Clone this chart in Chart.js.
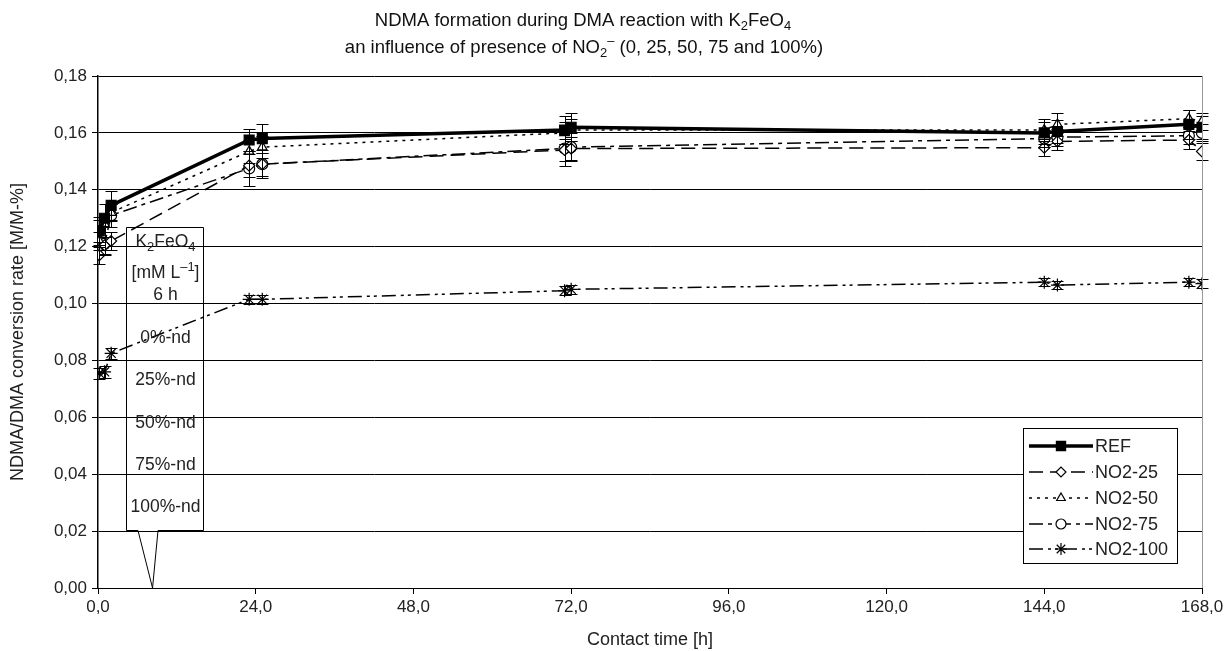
<!DOCTYPE html>
<html><head><meta charset="utf-8">
<script src="https://cdn.jsdelivr.net/npm/chart.js@4.4.1/dist/chart.umd.min.js"></script>
<style>html,body{margin:0;padding:0;background:#fff}#wrap{width:1229px;height:651px;position:relative}</style>
</head><body><div id="wrap"><canvas id="c" width="1229" height="651"></canvas></div>
<script>
// ---- data ----
const hours   = [0.2, 1, 2, 23, 25, 71, 72, 144, 146, 166, 168];
const seriesNames = ['REF', 'NO2-25', 'NO2-50', 'NO2-75', 'NO2-100'];
const ref     = [0.1255, 0.130, 0.1345, 0.1575, 0.158, 0.161, 0.162, 0.1600, 0.1605, 0.1630, 0.1620];
const no2_25  = [0.1170, 0.1205, 0.1220, 0.1485, 0.1490, 0.1540, 0.1545, 0.1548, 0.1570, 0.1575, 0.1535];
const no2_50  = [0.1220, 0.1280, 0.1320, 0.1535, 0.1550, 0.1600, 0.1610, 0.1610, 0.1630, 0.1650, 0.1640];
const no2_75  = [0.1255, 0.1210, 0.1310, 0.1475, 0.1490, 0.1545, 0.1550, 0.1580, 0.1585, 0.1590, 0.1600];
const no2_100 = [0.0755, 0.0760, 0.0825, 0.1015, 0.1015, 0.1045, 0.1050, 0.1075, 0.1065, 0.1075, 0.1070];
const ref_err     = [0.005, 0.005, 0.005, 0.004, 0.005, 0.005, 0.005, 0.004, 0.004, 0.005, 0.004];
const no2_25_err  = [0.003, 0.003, 0.003, 0.004, 0.004, 0.004, 0.004, 0.003, 0.003, 0.003, 0.003];
const no2_50_err  = [0.003, 0.003, 0.003, 0.004, 0.004, 0.004, 0.004, 0.004, 0.004, 0.003, 0.003];
const no2_75_err  = [0.004, 0.004, 0.004, 0.006, 0.005, 0.006, 0.005, 0.003, 0.003, 0.003, 0.003];
const no2_100_err = [0.002, 0.002, 0.002, 0.0015, 0.0015, 0.0015, 0.0015, 0.0015, 0.0015, 0.0015, 0.0015];
const xTickValues = [0, 24, 48, 72, 96, 120, 144, 168];
const yTickValues = [0, 0.02, 0.04, 0.06, 0.08, 0.10, 0.12, 0.14, 0.16, 0.18];
const calloutLines = ['0%-nd', '25%-nd', '50%-nd', '75%-nd', '100%-nd'];
const calloutTip = {x: 8.3, y: 0};

const FONT = '"Liberation Sans", Arial, sans-serif';
const toPts = (vals) => vals.map((v, i) => ({x: hours[i], y: v}));
const errs = [ref_err, no2_25_err, no2_50_err, no2_75_err, no2_100_err];

const styles = [
  {dash: [], width: 3.5, pointStyle: 'rect', radius: 7, fill: '#000'},
  {dash: [14, 7], width: 1.5, pointStyle: 'rectRot', radius: 5.5, fill: '#fff'},
  {dash: [3, 5], width: 1.5, pointStyle: 'triangle', radius: 5.5, fill: '#fff'},
  {dash: [14, 5, 4, 5], width: 1.5, pointStyle: 'circle', radius: 5.5, fill: '#fff'},
  {dash: [14, 5, 3, 4, 3, 5], width: 1.5, pointStyle: 'star', radius: 6.5, fill: '#fff'}
];
const allVals = [ref, no2_25, no2_50, no2_75, no2_100];

const datasets = allVals.map((vals, i) => ({
  label: seriesNames[i],
  data: toPts(vals),
  borderColor: '#000',
  backgroundColor: styles[i].fill,
  borderWidth: styles[i].width,
  borderDash: styles[i].dash,
  pointStyle: styles[i].pointStyle,
  pointRadius: styles[i].radius,
  pointBorderWidth: 1.2,
  pointBorderColor: '#000',
  pointBackgroundColor: styles[i].fill,
  tension: 0,
  fill: false
}));

function drawRich(ctx, parts, x, y, size, align) {
  const widths = parts.map(p => {
    ctx.font = (p[1] ? Math.round(size * 0.72) : size) + 'px ' + FONT;
    return ctx.measureText(p[0]).width;
  });
  const total = widths.reduce((a, b) => a + b, 0);
  let cx = align === 'center' ? x - total / 2 : x;
  ctx.textBaseline = 'middle';
  ctx.textAlign = 'left';
  parts.forEach((p, i) => {
    ctx.font = (p[1] ? Math.round(size * 0.72) : size) + 'px ' + FONT;
    const dy = p[1] === 1 ? size * 0.32 : (p[1] === 2 ? -size * 0.33 : 0);
    ctx.fillText(p[0], cx, y + dy);
    cx += widths[i];
  });
}

const decorPlugin = {
  id: 'decor',
  afterDraw(chart) {
    const ctx = chart.ctx;
    const a = chart.chartArea;
    const xs = chart.scales.x, ys = chart.scales.y;
    ctx.save();
    ctx.strokeStyle = '#999';
    ctx.lineWidth = 1;
    ctx.beginPath();
    ctx.moveTo(Math.round(a.right) + 0.5, a.top);
    ctx.lineTo(Math.round(a.right) + 0.5, a.bottom);
    ctx.stroke();

    // title
    ctx.fillStyle = '#111';
    drawRich(ctx, [['NDMA formation during DMA reaction with K', 0], ['2', 1], ['FeO', 0], ['4', 1]], 583, 21, 18.5, 'center');
    drawRich(ctx, [['an influence of presence of NO', 0], ['2', 1], ['\u2013', 2], [' (0, 25, 50, 75 and 100%)', 0]], 584, 48, 18.5, 'center');

    // callout box
    const bx0 = 126, bx1 = 203, by0 = 227, by1 = 530;
    const tipX = xs.getPixelForValue(calloutTip.x), tipY = ys.getPixelForValue(calloutTip.y);
    ctx.strokeStyle = '#000';
    ctx.lineWidth = 1;
    ctx.beginPath();
    ctx.moveTo(bx0 + 0.5, by0 + 0.5);
    ctx.lineTo(bx1 + 0.5, by0 + 0.5);
    ctx.lineTo(bx1 + 0.5, by1 + 0.5);
    ctx.lineTo(158, by1 + 0.5);
    ctx.lineTo(tipX, tipY);
    ctx.lineTo(138, by1 + 0.5);
    ctx.lineTo(bx0 + 0.5, by1 + 0.5);
    ctx.closePath();
    ctx.stroke();
    ctx.fillStyle = '#222';
    const cxm = (bx0 + bx1) / 2 + 1;
    drawRich(ctx, [['K', 0], ['2', 1], ['FeO', 0], ['4', 1]], cxm, 242, 17.5, 'center');
    drawRich(ctx, [['[mM L', 0], ['\u20131', 2], [']', 0]], cxm, 273, 17.5, 'center');
    drawRich(ctx, [['6 h', 0]], cxm, 295, 17.5, 'center');
    const ly = [338, 380, 423, 465, 507];
    calloutLines.forEach((t, i) => drawRich(ctx, [[t, 0]], cxm, ly[i], 17.5, 'center'));

    // legend
    const lx0 = 1023, lx1 = 1177, ly0 = 428, ly1 = 563;
    ctx.fillStyle = '#fff';
    ctx.fillRect(lx0, ly0, lx1 - lx0, ly1 - ly0);
    ctx.strokeStyle = '#000';
    ctx.lineWidth = 1;
    ctx.strokeRect(lx0 + 0.5, ly0 + 0.5, lx1 - lx0, ly1 - ly0);
    const rows = [446, 472, 498, 524, 549];
    seriesNames.forEach((name, i) => {
      const st = styles[i];
      const y = rows[i];
      ctx.save();
      ctx.strokeStyle = '#000';
      ctx.lineWidth = st.width;
      ctx.setLineDash(st.dash);
      ctx.beginPath();
      ctx.moveTo(1029, y);
      ctx.lineTo(1093, y);
      ctx.stroke();
      ctx.setLineDash([]);
      ctx.fillStyle = st.fill;
      ctx.strokeStyle = '#000';
      ctx.lineWidth = 1.2;
      Chart.helpers.drawPoint(ctx, {pointStyle: st.pointStyle, rotation: 0, radius: st.radius - 0.5, borderWidth: 1.2}, 1061, y);
      ctx.restore();
      ctx.fillStyle = '#222';
      ctx.font = '18px ' + FONT;
      ctx.textAlign = 'left';
      ctx.textBaseline = 'middle';
      ctx.fillText(name, 1095, y + 1);
    });
    ctx.restore();
  },
  afterDatasetsDraw(chart) {
    const ctx = chart.ctx;
    const xs = chart.scales.x, ys = chart.scales.y;
    ctx.save();
    ctx.strokeStyle = '#000';
    ctx.lineWidth = 1;
    errs.forEach((eArr, di) => {
      allVals[di].forEach((v, i) => {
        const px = Math.round(xs.getPixelForValue(hours[i])) + 0.5;
        const yt = Math.round(ys.getPixelForValue(v + eArr[i])) + 0.5;
        const yb = Math.round(ys.getPixelForValue(v - eArr[i])) + 0.5;
        ctx.beginPath();
        ctx.moveTo(px, yt); ctx.lineTo(px, yb);
        ctx.moveTo(px - 6, yt); ctx.lineTo(px + 6, yt);
        ctx.moveTo(px - 6, yb); ctx.lineTo(px + 6, yb);
        ctx.stroke();
      });
    });
    ctx.restore();
  }
};

new Chart(document.getElementById('c'), {
  type: 'line',
  data: {datasets},
  options: {
    responsive: false,
    devicePixelRatio: 1,
    animation: false,
    layout: {padding: {top: 76, right: 27, left: 0, bottom: 0}},
    plugins: {legend: {display: false}, title: {display: false}, tooltip: {enabled: false}},
    scales: {
      x: {
        type: 'linear', min: 0, max: 168,
        afterFit: s => { s.height = 63; },
        afterBuildTicks: s => { s.ticks = xTickValues.map(v => ({value: v})); },
        ticks: {color: '#222', font: {family: FONT, size: 17}, padding: 3, maxRotation: 0,
          callback: v => v.toFixed(1).replace('.', ',')},
        grid: {drawOnChartArea: false, tickLength: 6, color: '#000'},
        border: {color: '#000', width: 1},
        title: {display: true, text: 'Contact time [h]', color: '#222', font: {family: FONT, size: 18}, padding: {top: 0, bottom: 0}}
      },
      y: {
        type: 'linear', min: 0, max: 0.18,
        afterFit: s => { s.width = 98; },
        afterBuildTicks: s => { s.ticks = yTickValues.map(v => ({value: v})); },
        ticks: {color: '#222', font: {family: FONT, size: 17}, padding: 5,
          callback: v => v.toFixed(2).replace('.', ',')},
        grid: {color: '#000', lineWidth: 1, tickLength: 6},
        border: {color: '#000', width: 1.5},
        title: {display: true, text: 'NDMA/DMA conversion rate [M/M-%]', color: '#222', font: {family: FONT, size: 18}, padding: {top: 7, bottom: 0}}
      }
    }
  },
  plugins: [decorPlugin]
});
</script>
</body></html>
